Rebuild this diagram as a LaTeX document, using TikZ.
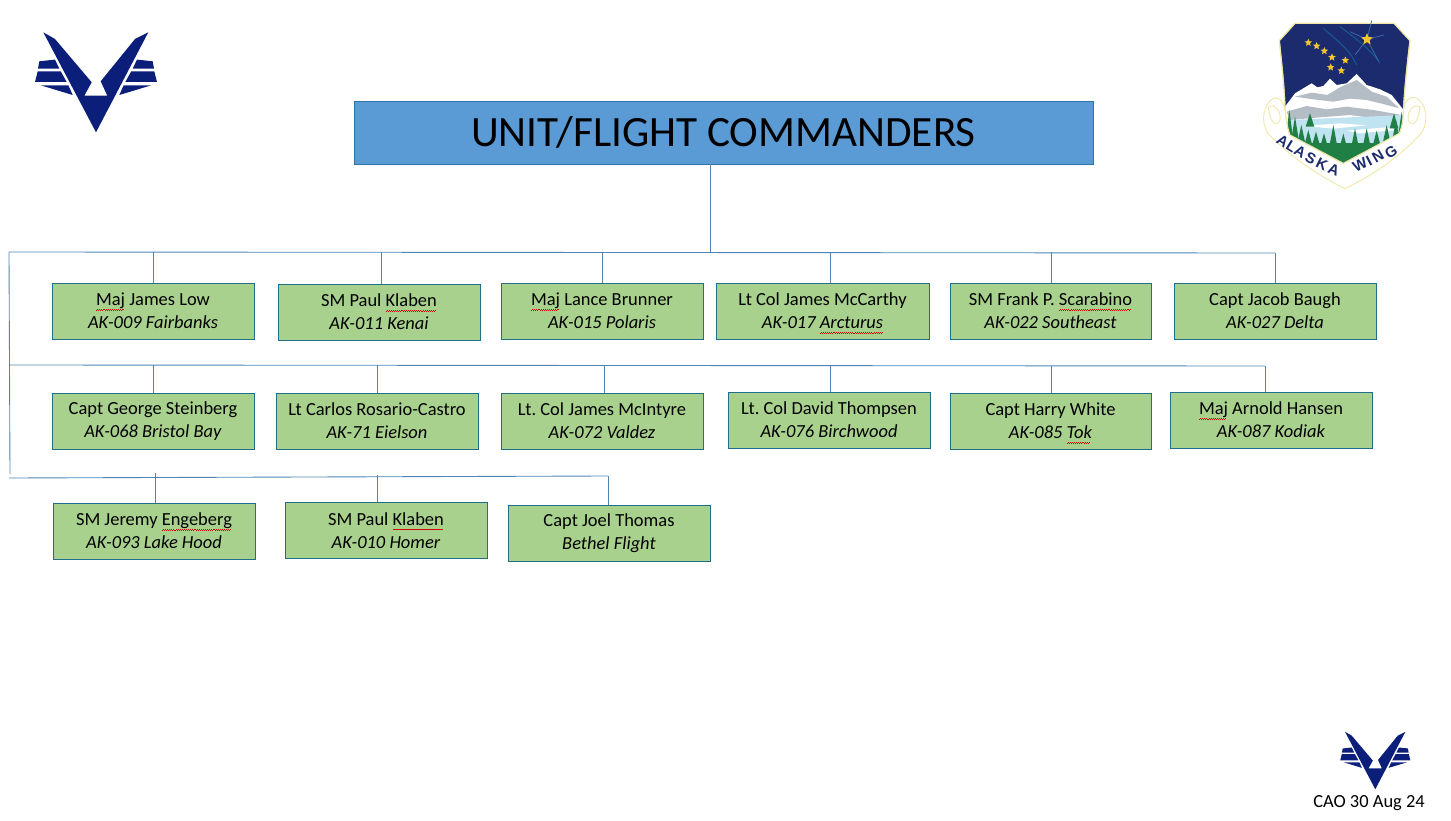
\documentclass[tikz,border=0pt]{standalone}
\usepackage{fontspec}
\setmainfont{Carlito}
\newfontfamily\crestfont{Liberation Sans}
\usepackage{xcolor}
\usetikzlibrary{shapes.geometric}
\definecolor{cdrblue}{HTML}{5B9BD5}
\definecolor{cdredge}{HTML}{2E75A6}
\definecolor{cdrgreen}{HTML}{A9D18E}
\definecolor{cdrteal}{HTML}{1F6E8C}
\definecolor{cdrnavy}{HTML}{0B1F7A}
\definecolor{crestblue}{HTML}{1C2A6E}
\definecolor{crestgold}{HTML}{F2C82E}
\definecolor{crestgreen}{HTML}{1F7F45}
\definecolor{crestgrey}{HTML}{B4BCC6}
\definecolor{crestwater}{HTML}{BFE3F0}
\definecolor{crestrim}{HTML}{EFE7A8}
\newcommand\squig[1]{\setbox0\hbox{#1}\rlap{\smash{\textcolor{red!85!black}{\leaders\hbox{\rule[-2.7pt]{.6pt}{.4pt}\rule[-2.2pt]{.6pt}{.4pt}}\hskip\wd0}}}#1}
\newcommand\shieldpath{(165,70) -- (462,70) -- (510,122) .. controls (498,220) and (492,290) .. (490,340) .. controls (488,370) and (484,385) .. (478,400) -- (310,490) -- (150,405) .. controls (142,385) and (137,350) .. (135,320) .. controls (132,250) and (125,190) .. (118,122) -- cycle}
\tikzset{
  cdrtitle/.style={draw=cdredge, fill=cdrblue, line width=0.45pt, font=\fontsize{24.6}{28}\selectfont},
  cdrbox/.style={draw=cdrteal, fill=cdrgreen, line width=0.45pt, align=center, inner sep=0pt, font=\fontsize{10.5}{13}\selectfont\frenchspacing},
  cdrline/.style={draw=cdrblue!85!black, line width=0.5pt},
  wingpart/.style={fill=cdrnavy, draw=none},
  wings/.pic={
    \fill[wingpart] (-52.7,-100) -- (-41,-93.3) -- (-4.3,-50) -- (-11.7,-36.6) -- (11.3,-36.6) -- (4.7,-51) -- (39,-93.3) -- (52.3,-100) -- (0,0) -- cycle;
    \foreach \side in {-1,1} {
      \fill[wingpart] (\side*56.7,-71) -- (\side*41,-72.7) -- (\side*36.7,-63.7) -- (\side*58,-63.7) -- cycle;
      \fill[wingpart] (\side*58.3,-61) -- (\side*35.3,-61) -- (\side*29.3,-50.3) -- (\side*61,-50.3) -- cycle;
      \fill[wingpart] (\side*55.3,-47) -- (\side*27.7,-47) -- (\side*23.3,-37.3) -- cycle;
    }
  },
}
\begin{document}
\begin{tikzpicture}[x=0.02cm,y=-0.02cm]
\useasboundingbox (0,0) rectangle (1451,821);
\node[cdrtitle, minimum width=14.78cm, minimum height=1.26cm, inner sep=0pt] (title) at (723.5,132.5) {UNIT/FLIGHT COMMANDERS};
% first row
\foreach \name/\bx/\by/\bw/\lineone/\linetwo in {
  low/153/311/202/{\squig{Maj} James Low}/AK-009 Fairbanks,
  kenai/379/312/202/{SM Paul \squig{Klaben}}/AK-011 Kenai,
  polaris/602/311/202/{\squig{Maj} Lance Brunner}/AK-015 Polaris,
  arcturus/822.5/311/213/{Lt Col James McCarthy}/{AK-017 \squig{Arcturus}},
  southeast/1050.5/311/201/{SM Frank P. \squig{Scarabino}}/AK-022 Southeast,
  delta/1275/311/202/{Capt Jacob Baugh}/AK-027 Delta,
  bristol/153/421/202/{Capt George Steinberg}/AK-068 Bristol Bay,
  eielson/377/421/202/{Lt Carlos Rosario-Castro}/AK-71 Eielson,
  valdez/602/421/202/{Lt. Col James McIntyre}/AK-072 Valdez,
  birchwood/829/420/202/{Lt. Col David Thompsen}/AK-076 Birchwood,
  tok/1050.5/421/201/{Capt Harry White}/{AK-085 \squig{Tok}},
  kodiak/1271/420/202/{\squig{Maj} Arnold Hansen}/AK-087 Kodiak,
  lakehood/154/531/202/{SM Jeremy \squig{Engeberg}}/AK-093 Lake Hood,
  homer/386/530.5/202/{SM Paul \squig{Klaben}}/AK-010 Homer,
  bethel/609/533.5/202/{Capt Joel Thomas}/Bethel Flight}
  \node[cdrbox, minimum width=\bw*0.02cm, minimum height=1.12cm] (\name) at (\bx,\by) {\lineone\\\textit{\linetwo}};
% buses
\coordinate (titlefoot) at (710,252);
\coordinate (busatop) at (9,252);
\coordinate (busaend) at (1275,253);
\coordinate (busbleft) at (9,365);
\coordinate (busbend) at (1265,366);
\coordinate (buscleft) at (9,478);
\coordinate (buscend) at (608,476);
\coordinate (spinefoot) at (10,474);
\draw[cdrline] (titlefoot |- title.south) -- (titlefoot);
\draw[cdrline] (busatop) -- (busaend);
\draw[cdrline] (busbleft) -- (busbend);
\draw[cdrline] (buscleft) -- (buscend);
\draw[cdrline] (busatop) -- (spinefoot);
\foreach \name/\sx/\sy in {low/153/252, kenai/381/252, polaris/602/252, arcturus/830/252, southeast/1051/252, delta/1275/253,
  bristol/153/365, eielson/377/365, valdez/604/366, birchwood/830/366, tok/1051/366, kodiak/1265/366,
  lakehood/155/473, homer/377/475, bethel/608/476} {
  \coordinate (stem\name) at (\sx,\sy);
  \draw[cdrline] (stem\name) -- (stem\name |- \name.north);
}
% logos
\pic at (96,132.3) {wings};
\pic[scale=0.575] at (1375.3,789.3) {wings};
\node[font=\fontsize{10.5}{12}\selectfont, inner sep=0pt] (stamp) at (1369,803) {CAO 30 Aug 24};
% crest
\begin{scope}[shift={(1240,0)},x=0.02cm/3,y=-0.02cm/3]
\filldraw[fill=white, draw=crestrim, line width=0.5pt] (135,330) .. controls (130,300) and (110,285) .. (95,298) .. controls (70,320) and (62,360) .. (82,398) .. controls (150,470) and (240,530) .. (315,566) .. controls (400,525) and (480,470) .. (545,398) .. controls (568,360) and (558,310) .. (530,295) .. controls (510,285) and (495,300) .. (490,330) -- (310,490) -- cycle;
\draw[crestrim, line width=0.5pt] (85,320) .. controls (100,310) and (125,330) .. (120,360) .. controls (110,385) and (90,370) .. (85,320);
\draw[crestrim, line width=0.5pt] (540,320) .. controls (525,310) and (500,330) .. (505,360) .. controls (515,385) and (535,370) .. (540,320);
\filldraw[fill=crestblue, draw=crestrim, line width=0.6pt] \shieldpath;
\begin{scope}
\clip \shieldpath;
\draw[crestblue!75!cyan, line width=0.5pt] (250,85) .. controls (290,120) and (330,150) .. (350,195);
\draw[crestblue!75!cyan, line width=0.5pt] (300,80) .. controls (340,110) and (395,150) .. (420,190);
\fill[white] (135,320) -- (165,280) -- (190,265) -- (215,250) -- (232,262) -- (250,258) -- (270,236) -- (290,255) -- (320,250) -- (350,222) -- (380,255) -- (420,268) -- (455,285) -- (495,335) -- (495,420) -- (130,420) -- cycle;
\fill[crestgrey] (165,290) -- (215,278) -- (262,285) -- (300,262) -- (350,240) -- (395,275) -- (440,290) -- (478,325) -- (430,312) -- (380,300) -- (330,296) -- (280,305) -- (220,298) -- cycle;
\fill[crestgrey] (140,335) -- (200,318) -- (260,328) -- (320,320) -- (400,330) -- (485,345) -- (485,365) -- (330,345) -- (240,352) -- (150,360) -- cycle;
\fill[crestwater] (150,360) -- (490,345) -- (490,440) -- (150,440) -- cycle;
\fill[white] (190,378) -- (300,370) -- (380,376) -- (280,386) -- cycle;
\fill[white] (320,392) -- (440,382) -- (470,390) -- (360,400) -- cycle;
\fill[crestgreen] (130,430) -- (490,430) -- (490,500) -- (130,500) -- cycle;
\foreach \tx/\ty/\th in {148/330/100, 165/350/80, 184/375/60, 210/340/40, 205/390/50, 228/395/45, 252/400/45, 280/375/70, 310/400/50, 345/385/65, 380/385/60, 410/392/50, 440/375/60, 468/360/70, 485/335/90, 462/340/45}
  \fill[crestgreen] (\tx,\ty) -- (\tx+13,\ty+\th) -- (\tx-13,\ty+\th) -- cycle;
\end{scope}
\draw[crestrim, line width=0.6pt] \shieldpath;
\foreach \rx/\ry in {330/95, 432/105, 345/165, 415/182, 395/62}
  \draw[cdrblue!60!crestblue, line width=0.4pt] (381,118) -- (\rx,\ry);
\foreach \i/\sx/\sy in {1/205/128, 2/230/138, 3/253/153, 4/276/172, 5/316/181, 6/272/202, 7/304/212}
  \node[star, star points=5, star point ratio=2.2, fill=crestgold, inner sep=0pt, minimum size=4.5pt] (dipper\i) at (\sx,\sy) {};
\node[star, star points=5, star point ratio=2.2, fill=crestgold, inner sep=0pt, minimum size=7pt] (polestar) at (381,118) {};
\foreach \i/\ch/\cx/\cy/\rot in {1/A/128/424/-33, 2/L/154/440/-32, 3/A/180/456/-30, 4/S/212/476/-28, 5/K/246/494/-26, 6/A/281/509/-22,
  7/W/360/495/26, 8/I/387/482/28, 9/N/414/469/30, 10/G/453/455/32}
  \node[font=\crestfont\bfseries\fontsize{8.5}{9}\selectfont, text=crestblue, inner sep=0pt, rotate=\rot] (motto\i) at (\cx,\cy) {\ch};
\end{scope}
\end{tikzpicture}
\end{document}
